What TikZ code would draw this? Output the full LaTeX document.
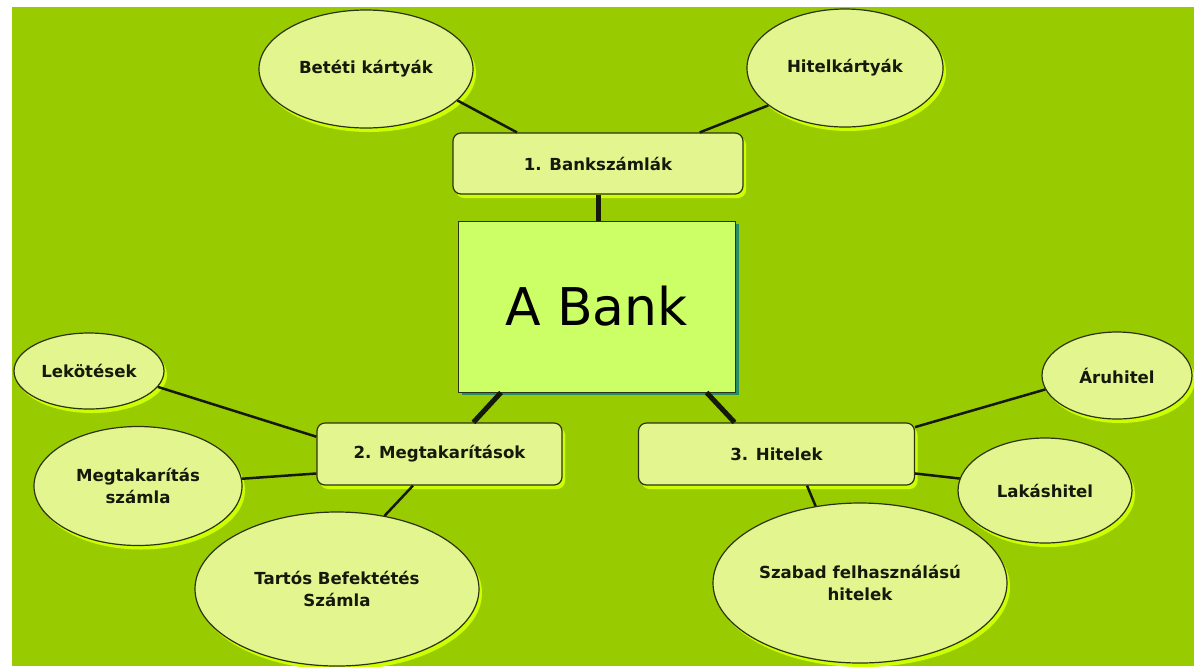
\documentclass[tikz,border=0pt]{standalone}
\usepackage{fontspec}
\setmainfont{DejaVu Sans}
\usepackage{tikz}
\usetikzlibrary{shapes.geometric}
\usetikzlibrary{shadows}

\definecolor{bggreen}{RGB}{153,204,0}
\definecolor{leaffill}{RGB}{226,245,143}
\definecolor{centrefill}{RGB}{204,255,102}
\definecolor{glowgreen}{RGB}{204,255,0}
\definecolor{tealshadow}{RGB}{40,140,100}
\definecolor{edgedark}{RGB}{45,50,20}
\definecolor{linedark}{RGB}{20,25,10}

\begin{document}
\begin{tikzpicture}[x=0.5pt,y=0.5pt,yscale=-1,
  leaf/.style={ellipse, draw=edgedark, line width=0.6pt, fill=leaffill, inner sep=0pt, align=center,
    font=\bfseries\fontsize{8.3}{11}\selectfont, text=linedark,
    drop shadow={shadow xshift=1.5pt, shadow yshift=-2pt, fill=glowgreen, opacity=1}},
  branch/.style={rectangle, rounded corners=4pt, draw=edgedark, line width=0.6pt, fill=leaffill, inner sep=0pt,
    font=\bfseries\fontsize{8.3}{11}\selectfont, text=linedark,
    drop shadow={shadow xshift=1.5pt, shadow yshift=-2pt, fill=glowgreen, opacity=1}},
  link/.style={draw=linedark, line width=1.25pt},
  trunk/.style={draw=linedark, line width=2.5pt}]

%set diagram to 1194 x 666
\useasboundingbox (0,0) rectangle (1194,666);
\fill [white] (0,0) rectangle (1194,666);
\fill [bggreen] (12,7) rectangle (1194,666);

% Centre box
\node [rectangle, draw=edgedark, line width=0.5pt, fill=centrefill, minimum width=138.5pt, minimum height=85.5pt,
  font=\fontsize{26}{30}\selectfont, text=black,
  drop shadow={shadow xshift=2pt, shadow yshift=-1.5pt, fill=tealshadow, opacity=1}] (abank) at (596.5,306.5) {A Bank};

% Branch boxes
\node [branch, minimum width=145pt, minimum height=30.5pt] (banksz) at (598,163.5) {1. Bankszámlák};
\node [branch, minimum width=122.5pt, minimum height=31pt] (megtak) at (439.5,454) {2. Megtakarítások};
\node [branch, minimum width=138pt, minimum height=31pt] (hitelek) at (776.5,454) {3. Hitelek};

% Leaf ellipses
\node [leaf, minimum width=107pt, minimum height=59pt] (betet) at (366,69) {Betéti kártyák};
\node [leaf, minimum width=98pt, minimum height=59pt] (hitelk) at (845,68) {Hitelkártyák};
\node [leaf, minimum width=75pt, minimum height=38pt] (lekot) at (89,371) {Lekötések};
\node [leaf, minimum width=104pt, minimum height=59.5pt] (megtsz) at (138,486) {Megtakarítás\\számla};
\node [leaf, minimum width=142pt, minimum height=77pt] (tartos) at (337,589) {Tartós Befektétés\\Számla};
\node [leaf, minimum width=75pt, minimum height=43.5pt] (aru) at (1117,375.5) {Áruhitel};
\node [leaf, minimum width=87pt, minimum height=52.5pt] (lakas) at (1045,490.5) {Lakáshitel};
\node [leaf, minimum width=147pt, minimum height=80pt] (szabad) at (860,583) {Szabad felhasználású\\hitelek};

% Connectors
\draw [link] (betet.-19) -- (banksz.159);
\draw [link] (hitelk.-154) -- (banksz.17);
\draw [trunk] (banksz.south) -- (banksz.south |- abank.north);
\draw [trunk] (abank.222) -- (megtak.43);
\draw [trunk] (abank.-38) -- (hitelek.143);
\draw [link] (lekot.-13) -- (megtak.172);
\draw [link] (megtsz.4) -- (megtak.189);
\draw [link] (tartos.57) -- (megtak.230);
\draw [link] (aru.191) -- (hitelek.11);
\draw [link] (lakas.172) -- (hitelek.-8);
\draw [link] (szabad.120) -- (hitelek.-46);
\end{tikzpicture}
\end{document}
